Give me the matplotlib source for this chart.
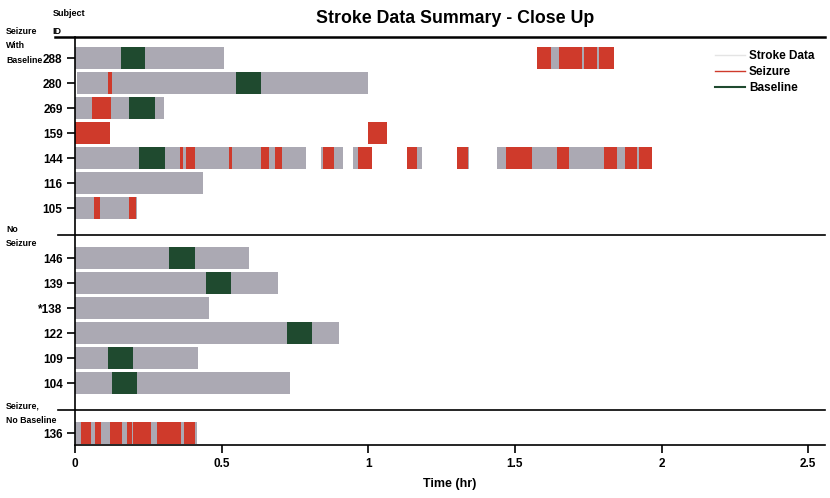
import matplotlib.pyplot as plt
from matplotlib.lines import Line2D

plt.rcParams['font.family'] = ['Liberation Sans Narrow', 'Liberation Sans', 'DejaVu Sans']

# subject groups, top to bottom
group_names = ['Seizure\nWith\nBaseline', 'No\nSeizure', 'Seizure,\nNo Baseline']
group_subjects = [
    ['288', '280', '269', '159', '144', '116', '105'],
    ['146', '139', '*138', '122', '109', '104'],
    ['136'],
]

# recorded stroke data (hr), (start, end)
stroke = {
    '288': [(0, 0.508), (1.574, 1.838)],
    '280': [(0.007, 1.0)],
    '269': [(0, 0.302)],
    '159': [],
    '144': [(0, 0.787), (0.838, 0.913), (0.949, 1.013), (1.133, 1.183),
            (1.301, 1.343), (1.438, 1.966)],
    '116': [(0, 0.437)],
    '105': [(0, 0.21)],
    '146': [(0, 0.594)],
    '139': [(0, 0.693)],
    '*138': [(0, 0.457)],
    '122': [(0, 0.901)],
    '109': [(0, 0.42)],
    '104': [(0, 0.733)],
    '136': [(0, 0.415)],
}

# seizure intervals (hr)
seizure = {
    '288': [(1.574, 1.623), (1.650, 1.730), (1.735, 1.780), (1.785, 1.838)],
    '280': [(0.114, 0.127)],
    '269': [(0.058, 0.122)],
    '159': [(0, 0.12), (1.0, 1.065)],
    '144': [(0.358, 0.368), (0.378, 0.408), (0.524, 0.535), (0.635, 0.660),
            (0.683, 0.706), (0.847, 0.882), (0.966, 1.013), (1.133, 1.167),
            (1.301, 1.341), (1.469, 1.559), (1.642, 1.685), (1.804, 1.849),
            (1.875, 1.917), (1.924, 1.966)],
    '105': [(0.065, 0.085), (0.185, 0.208)],
    '136': [(0.020, 0.053), (0.069, 0.089), (0.119, 0.161), (0.176, 0.195),
            (0.199, 0.258), (0.280, 0.360), (0.373, 0.409)],
}

# baseline intervals (hr)
baseline = {
    '288': [(0.156, 0.240)],
    '280': [(0.548, 0.634)],
    '269': [(0.185, 0.274)],
    '144': [(0.217, 0.306)],
    '146': [(0.321, 0.409)],
    '139': [(0.446, 0.532)],
    '122': [(0.722, 0.809)],
    '109': [(0.111, 0.198)],
    '104': [(0.127, 0.212)],
}

x_ticks = [0, 0.5, 1, 1.5, 2, 2.5]
x_ticklabels = ['0', '0.5', '1', '1.5', '2', '2.5']

gray_c = '#aba9b3'
red_c = '#cf3a2b'
green_c = '#1f4a2f'
bar_h = 0.88

fig = plt.figure(figsize=(8.3, 4.98), dpi=100)
ax = fig.add_axes([0.0904, 0.1064, 0.9036, 0.8193])

# row positions: one empty row between groups
ypos = {}
sep_lines = []
row = 0
for gi, subs in enumerate(group_subjects):
    if gi > 0:
        sep_lines.append(row + 0.08)
        row += 1
    for s in subs:
        ypos[s] = row
        row += 1
last = row - 1


def draw(intervals, color):
    for s, segs in intervals.items():
        for a, b in segs:
            ax.barh(ypos[s], b - a, left=a, height=bar_h, color=color, lw=0)


draw(stroke, gray_c)
draw(seizure, red_c)
draw(baseline, green_c)

all_subs = [s for subs in group_subjects for s in subs]
ax.set_yticks([ypos[s] for s in all_subs])
ax.set_yticklabels(all_subs, fontsize=8.5, fontweight='bold')
ax.set_ylim(last + 0.48, -0.84)
ax.set_xlim(0, 2.557)
ax.set_xticks(x_ticks)
ax.set_xticklabels(x_ticklabels, fontsize=8.5, fontweight='bold')
ax.set_xlabel('Time (hr)', fontsize=9, fontweight='bold', labelpad=6)
ax.tick_params(length=6, width=1.2, pad=3)

for sp in ['top', 'right']:
    ax.spines[sp].set_visible(False)
ax.spines['left'].set_linewidth(1.2)
ax.spines['bottom'].set_linewidth(1.2)

# top rule and group separators, extending left of the axis
trans = ax.get_yaxis_transform()
ax.plot([-0.027, 1], [-0.84, -0.84], color='black', lw=1.8, transform=trans, clip_on=False)
for y in sep_lines:
    ax.plot([-0.023, 1], [y, y], color='black', lw=1.2, transform=trans, clip_on=False)

# group headers (first line sits on / above the rule)
header_y = [-1.26, sep_lines[0] - 0.42, sep_lines[1] - 0.34]
for name, y in zip(group_names, header_y):
    ax.text(-0.092, y, name, transform=trans, fontsize=6.3, fontweight='bold',
            va='top', ha='left', linespacing=1.8)
fig.text(0.063, 0.982, 'Subject\nID', fontsize=6.5, fontweight='bold',
         va='top', ha='left', linespacing=2.3)

fig.text(0.548, 0.962, 'Stroke Data Summary - Close Up', ha='center', va='center',
         fontsize=12.8, fontweight='bold')

handles = [Line2D([], [], color='#e4e4e4', lw=1),
           Line2D([], [], color=red_c, lw=1),
           Line2D([], [], color=green_c, lw=1.5)]
ax.legend(handles, ['Stroke Data', 'Seizure', 'Baseline'], loc='upper right',
          bbox_to_anchor=(1.0, 0.995), frameon=False, handlelength=2.6,
          handletextpad=0.3, labelspacing=0.35,
          prop={'size': 8.5, 'weight': 'bold'})

fig.savefig('out.png', dpi=100)
